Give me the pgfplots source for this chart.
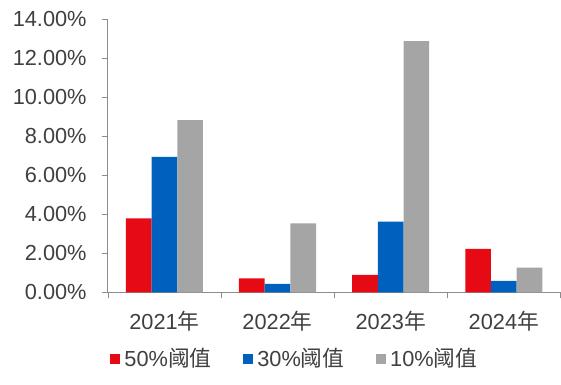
\documentclass[border=0pt]{standalone}
\usepackage{pgfplots}
\pgfplotsset{compat=1.18}
\usepackage{fontspec}
\setmainfont{Liberation Sans}
\newfontfamily\cjk{Noto Sans CJK SC}
\definecolor{cred}{HTML}{E60A14}
\definecolor{cblue}{HTML}{0060BE}
\definecolor{cgray}{HTML}{A5A5A5}
\definecolor{ctext}{HTML}{404040}
\definecolor{caxis}{HTML}{8C8C8C}
\begin{document}
\begin{tikzpicture}
\begin{axis}[
  scale only axis,
  width=224.5pt, height=135.5pt,
  ybar=0pt, bar width=12.75pt,
  xmin=-0.5, xmax=3.5,
  ymin=0, ymax=14,
  clip=false,
  xtick={0,1,2,3},
  xticklabels={2021{\cjk 年},2022{\cjk 年},2023{\cjk 年},2024{\cjk 年}},
  minor xtick={-0.5,0.5,1.5,2.5,3.5},
  major x tick style={draw=none},
  minor x tick style={draw=caxis},
  minor tick length=3pt,
  ytick={0,2,...,14},
  major tick length=3pt,
  tick align=outside,
  tick pos=left,
  axis x line*=bottom,
  axis y line*=left,
  axis line style={draw=caxis, line width=0.6pt},
  y tick style={draw=caxis},
  /pgf/number format/assume math mode=true,
  yticklabel={\pgfmathprintnumber[fixed,fixed zerofill,precision=2]{\tick}\%},
  ticklabel style={font=\fontsize{10.8}{12}\selectfont, text=ctext},
  xticklabel style={yshift=-3pt},
  yticklabel style={xshift=-4pt},
  legend style={
    at={(0.415,-0.245)}, anchor=center, draw=none,
    legend columns=3, font=\fontsize{10.8}{12}\selectfont, text=ctext,
    /tikz/every even column/.append style={column sep=13.5pt},
  },
  legend image code/.code={\fill[#1] (0pt,-2.6pt) rectangle (5.2pt,2.6pt);},
]
\addplot[fill=cred, draw=none] coordinates {(0,3.79) (1,0.71) (2,0.89) (3,2.22)};
\addplot[fill=cblue, draw=none] coordinates {(0,6.94) (1,0.43) (2,3.62) (3,0.58)};
\addplot[fill=cgray, draw=none] coordinates {(0,8.82) (1,3.53) (2,12.88) (3,1.26)};
\legend{50\%{\cjk 阈值},30\%{\cjk 阈值},10\%{\cjk 阈值}}
\path (rel axis cs:0,1) ++(-53.5pt,9.5pt);
\path (rel axis cs:0,0) ++(0,-45.5pt);
\end{axis}
\end{tikzpicture}
\end{document}
